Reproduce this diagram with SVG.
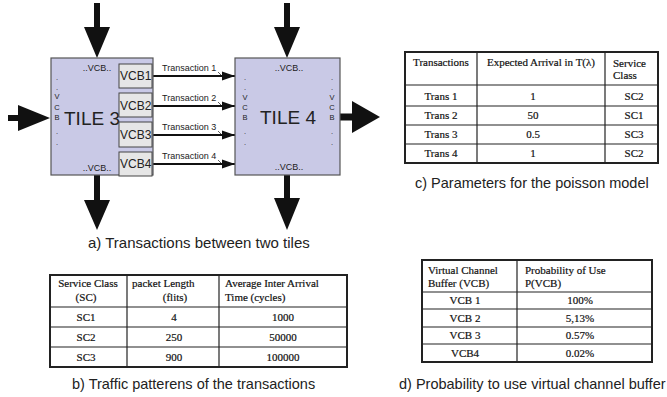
<svg xmlns="http://www.w3.org/2000/svg" width="667" height="397" viewBox="0 0 667 397">
<defs>
<marker id="ah" markerWidth="13" markerHeight="10" refX="13" refY="5" orient="auto" markerUnits="userSpaceOnUse">
<path d="M0,0.5 L13,5 L0,9.5 Z" fill="#111"/>
</marker>
<style>
.tile{fill:#c9c9e6;stroke:#555;stroke-width:1.2}
.vcb{fill:#e6e6e6;stroke:#444;stroke-width:1}
.big{fill:#111}
.tr{stroke:#111;stroke-width:2;fill:none}
.tick{stroke:#333;stroke-width:0.8;fill:none}
.sans{font-family:"Liberation Sans",Arial,sans-serif;fill:#222}
.tl{font-size:19px;text-anchor:middle}
.vb{font-size:12px}
.sm{font-size:9px}
.vt{font-size:7.5px;text-anchor:middle}
.lab{font-size:9px}
.cap{font-size:14.5px}
.ser{font-family:"Liberation Serif","Times New Roman",serif;font-size:11px;fill:#111;stroke:#111;stroke-width:0.2}
.c{text-anchor:middle}
.ob{fill:none;stroke:#222;stroke-width:2}
.il{stroke:#222;stroke-width:1.2}
</style>
</defs>

<!-- connectors -->
<g id="connectors">
<path class="big" d="M94,3 H100 V27 H110 L97,58 L84,27 H94 Z"/>
<path class="big" d="M8,115 H18 V105 L50,118 L18,131 V121 H8 Z"/>
<path class="big" d="M94,175 H100 V200 H110 L97,230 L84,200 H94 Z"/>
<path class="big" d="M284,3 H290 V27 H300 L287,58 L274,27 H284 Z"/>
<path class="big" d="M284,175 H290 V198 H300 L287,230 L274,198 H284 Z"/>
<path class="big" d="M340,113.5 H352 V101 L380,117 L352,133 V120.5 H340 Z"/>
<line class="tr" x1="152" y1="76" x2="235" y2="76" marker-end="url(#ah)"/>
<line class="tr" x1="152" y1="106" x2="235" y2="106" marker-end="url(#ah)"/>
<line class="tr" x1="152" y1="135" x2="235" y2="135" marker-end="url(#ah)"/>
<line class="tr" x1="152" y1="164" x2="235" y2="164" marker-end="url(#ah)"/>
<path class="tick" d="M218,72 L221,75 M218,102 L221,105 M218,131 L221,134 M218,160 L221,163"/>
<text class="sans lab" x="162" y="71">Transaction 1</text>
<text class="sans lab" x="162" y="101">Transaction 2</text>
<text class="sans lab" x="162" y="130">Transaction 3</text>
<text class="sans lab" x="162" y="159">Transaction 4</text>
</g>

<!-- tile 3 -->
<g id="tile3">
<rect class="tile" x="51" y="58" width="102" height="117"/>
<text class="sans tl" x="92" y="124.5">TILE 3</text>
<text class="sans sm" x="97" y="71" text-anchor="middle">..VCB..</text>
<text class="sans sm" x="97" y="171" text-anchor="middle">..VCB..</text>
<g class="sans vt">
<text x="57" y="80">.</text><text x="57" y="90">.</text>
<text x="57" y="99">V</text><text x="57" y="109.5">C</text><text x="57" y="120">B</text>
<text x="57" y="134">.</text><text x="57" y="145">.</text>
</g>
</g>
<g id="vcb1"><rect class="vcb" x="119" y="64" width="33" height="24"/><text class="sans vb" x="120" y="80.3">VCB1</text></g>
<g id="vcb2"><rect class="vcb" x="119" y="93" width="33" height="24"/><text class="sans vb" x="120" y="109.5">VCB2</text></g>
<g id="vcb3"><rect class="vcb" x="119" y="122" width="33" height="25"/><text class="sans vb" x="120" y="139">VCB3</text></g>
<g id="vcb4"><rect class="vcb" x="119" y="152" width="33" height="24"/><text class="sans vb" x="120" y="168.3">VCB4</text></g>

<!-- tile 4 -->
<g id="tile4">
<rect class="tile" x="235" y="58" width="105" height="117"/>
<text class="sans tl" x="288" y="124">TILE 4</text>
<text class="sans sm" x="289" y="71" text-anchor="middle">..VCB..</text>
<text class="sans sm" x="289" y="170" text-anchor="middle">..VCB..</text>
<g class="sans vt">
<text x="245" y="80">.</text><text x="245" y="90">.</text>
<text x="245" y="99.5">V</text><text x="245" y="109.5">C</text><text x="245" y="120">B</text>
<text x="245" y="134">.</text><text x="245" y="145">.</text>
<text x="332" y="80">.</text><text x="332" y="90">.</text>
<text x="332" y="99.5">V</text><text x="332" y="109.5">C</text><text x="332" y="120">B</text>
<text x="332" y="134">.</text><text x="332" y="145">.</text>
</g>
</g>

<text id="caption-a" class="sans cap" x="88" y="248" style="font-size:15px">a) Transactions between two tiles</text>

<!-- table c -->
<g id="table-c">
<line class="il" x1="405" y1="85" x2="658" y2="85"/>
<line class="il" x1="405" y1="106" x2="658" y2="106"/>
<line class="il" x1="405" y1="125" x2="658" y2="125"/>
<line class="il" x1="405" y1="144" x2="658" y2="144"/>
<line class="il" x1="477" y1="52" x2="477" y2="163"/>
<line class="il" x1="605" y1="52" x2="605" y2="163"/>
<rect class="ob" x="405" y="52" width="253" height="111"/>
<text class="ser c" x="441" y="66">Transactions</text>
<text class="ser c" x="541" y="66">Expected Arrival in T(λ)</text>
<text class="ser" x="613" y="67">Service</text>
<text class="ser" x="613" y="79">Class</text>
<text class="ser c" x="441" y="99.5">Trans 1</text><text class="ser c" x="533" y="99.5">1</text><text class="ser c" x="634" y="99.5">SC2</text>
<text class="ser c" x="441" y="119">Trans 2</text><text class="ser c" x="533" y="119">50</text><text class="ser c" x="634" y="119">SC1</text>
<text class="ser c" x="441" y="138">Trans 3</text><text class="ser c" x="533" y="138">0.5</text><text class="ser c" x="634" y="138">SC3</text>
<text class="ser c" x="441" y="157">Trans 4</text><text class="ser c" x="533" y="157">1</text><text class="ser c" x="634" y="157">SC2</text>
</g>
<text id="caption-c" class="sans cap" x="415" y="188">c) Parameters for the poisson model</text>

<!-- table b -->
<g id="table-b">
<line class="il" x1="50" y1="307" x2="347" y2="307"/>
<line class="il" x1="50" y1="327" x2="347" y2="327"/>
<line class="il" x1="50" y1="347" x2="347" y2="347"/>
<line class="il" x1="127" y1="275" x2="127" y2="367"/>
<line class="il" x1="219" y1="275" x2="219" y2="367"/>
<rect class="ob" x="50" y="275" width="297" height="92"/>
<text class="ser c" x="88" y="287">Service Class</text>
<text class="ser c" x="86" y="301">(SC)</text>
<text class="ser" x="132" y="287">packet Length</text>
<text class="ser c" x="175" y="301">(flits)</text>
<text class="ser" x="225" y="287">Average Inter Arrival</text>
<text class="ser" x="225" y="301">Time (cycles)</text>
<text class="ser c" x="86" y="321">SC1</text><text class="ser c" x="174" y="321">4</text><text class="ser c" x="283" y="321">1000</text>
<text class="ser c" x="86" y="341">SC2</text><text class="ser c" x="174" y="341">250</text><text class="ser c" x="283" y="341">50000</text>
<text class="ser c" x="86" y="361">SC3</text><text class="ser c" x="174" y="361">900</text><text class="ser c" x="283" y="361">100000</text>
</g>
<text id="caption-b" class="sans cap" x="72" y="389">b) Traffic patterens of the transactions</text>

<!-- table d -->
<g id="table-d">
<line class="il" x1="422" y1="292" x2="652" y2="292"/>
<line class="il" x1="422" y1="309" x2="652" y2="309"/>
<line class="il" x1="422" y1="327" x2="652" y2="327"/>
<line class="il" x1="422" y1="344" x2="652" y2="344"/>
<line class="il" x1="517" y1="260" x2="517" y2="362"/>
<rect class="ob" x="422" y="260" width="230" height="102"/>
<text class="ser" x="428" y="274">Virtual Channel</text>
<text class="ser" x="428" y="287">Buffer (VCB)</text>
<text class="ser" x="525" y="274">Probability of Use</text>
<text class="ser" x="525" y="287">P(VCB)</text>
<text class="ser c" x="465" y="304">VCB 1</text><text class="ser c" x="580" y="304">100%</text>
<text class="ser c" x="465" y="321.5">VCB 2</text><text class="ser c" x="580" y="321.5">5,13%</text>
<text class="ser c" x="465" y="339">VCB 3</text><text class="ser c" x="580" y="339">0.57%</text>
<text class="ser c" x="465" y="356.5">VCB4</text><text class="ser c" x="580" y="356.5">0.02%</text>
</g>
<text id="caption-d" class="sans cap" x="399" y="389">d) Probability to use virtual channel buffer</text>
</svg>
